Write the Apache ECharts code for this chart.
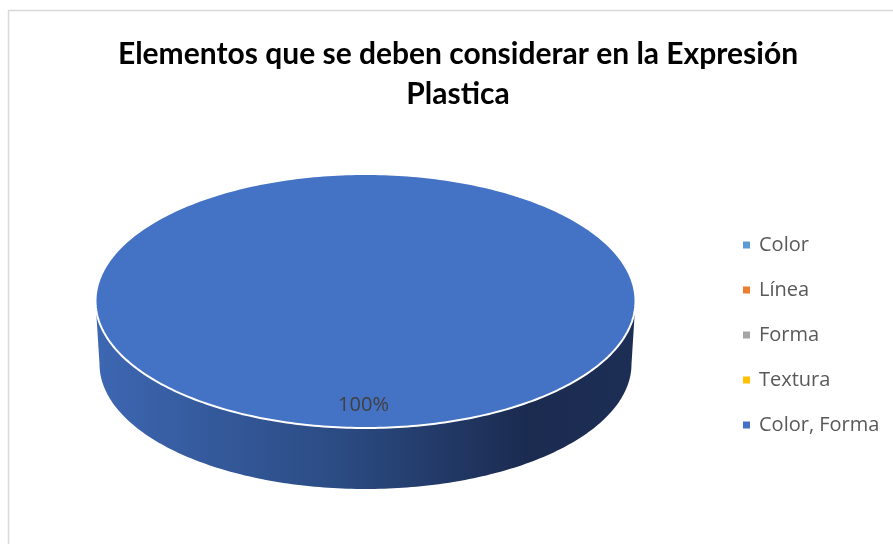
<!DOCTYPE html>
<html>
<head>
<meta charset="utf-8">
<script src="https://cdn.jsdelivr.net/npm/echarts@6/dist/echarts.min.js"></script>
<style>html,body{margin:0;padding:0;background:#fff;}#c{width:893px;height:544px;}</style>
</head>
<body>
<div id="c"></div>
<script>
var categories = ['Color', 'Línea', 'Forma', 'Textura', 'Color, Forma'];
var values = [0, 0, 0, 0, 100];
var colors = ['#5B9BD5', '#ED7D31', '#A5A5A5', '#FFC000', '#4472C4'];
var titleText = 'Elementos que se deben considerar en la Expresión\nPlastica';

var total = values.reduce(function (a, b) { return a + b; }, 0);
var starts = [];
(function () { var acc = 0; for (var i = 0; i < values.length; i++) { starts.push(acc); acc += values[i]; } })();

// geometry of the 3D pie (pixels)
var G = { cx: 365.5, cy: 301, rx: 270, ry: 127, depth: 63, shrink: 4 };

function pt(theta, cx, cy, rx, ry) {
  return [cx + rx * Math.sin(theta), cy - ry * Math.cos(theta)];
}

function makeRender(idx) {
  return function (params, api) {
    var v = values[idx];
    if (!v) return null;
    var a0 = starts[idx] / total * Math.PI * 2;
    var a1 = (starts[idx] + v) / total * Math.PI * 2;
    var children = [];
    var N = 180;
    var s0 = Math.max(a0, Math.PI / 2), s1 = Math.min(a1, Math.PI * 1.5);
    if (s1 > s0) {
      var side = [];
      var i, t;
      for (i = 0; i <= N; i++) { t = s0 + (s1 - s0) * i / N; side.push(pt(t, G.cx, G.cy, G.rx, G.ry)); }
      for (i = N; i >= 0; i--) { t = s0 + (s1 - s0) * i / N; side.push(pt(t, G.cx, G.cy + G.depth, G.rx - G.shrink, G.ry - 2)); }
      children.push({
        type: 'polygon',
        shape: { points: side },
        style: {
          fill: new echarts.graphic.LinearGradient(0, 0, 1, 0, [
            { offset: 0, color: '#3D67B2' },
            { offset: 0.45, color: '#2B4B83' },
            { offset: 0.8, color: '#1B2B50' },
            { offset: 1, color: '#1D2E55' }
          ]),
          stroke: null
        }
      });
    }
    var top = [];
    var full = (a1 - a0) >= Math.PI * 2 - 1e-9;
    if (!full) top.push([G.cx, G.cy]);
    for (var j = 0; j <= 360; j++) { var tt = a0 + (a1 - a0) * j / 360; top.push(pt(tt, G.cx, G.cy, G.rx, G.ry)); }
    children.push({
      type: 'polygon',
      shape: { points: top },
      style: { fill: colors[idx], stroke: '#ffffff', lineWidth: 2 }
    });
    var mid = (a0 + a1) / 2;
    var lp = pt(mid, G.cx, G.cy, G.rx * 0.82, G.ry * 0.82);
    children.push({
      type: 'text',
      x: lp[0] - 2, y: lp[1],
      style: {
        text: Math.round(v / total * 100) + '%',
        fill: '#404040',
        font: '20px "Open Sans", sans-serif',
        align: 'center',
        verticalAlign: 'middle'
      }
    });
    return { type: 'group', children: children };
  };
}

var series = categories.map(function (name, i) {
  return {
    type: 'custom',
    name: name,
    coordinateSystem: 'none',
    itemStyle: { color: colors[i] },
    data: [values[i]],
    renderItem: makeRender(i),
    silent: true
  };
});

var chart = echarts.init(document.getElementById('c'), null, { renderer: 'canvas' });
chart.setOption({
  animation: false,
  title: {
    text: titleText,
    left: 453,
    textAlign: 'center',
    top: 29,
    textStyle: { fontFamily: 'Lato', fontWeight: 'bold', fontSize: 30, color: '#000000', lineHeight: 40 }
  },
  legend: {
    orient: 'vertical',
    left: 738,
    top: 230,
    icon: 'rect',
    itemWidth: 7,
    itemHeight: 7,
    itemGap: 25,
    data: categories,
    textStyle: { fontFamily: 'Open Sans', fontSize: 20, color: '#595959', lineHeight: 20, padding: [0, 0, 0, 4] },
    selectedMode: false
  },
  graphic: [{
    type: 'rect',
    shape: { x: 8.5, y: 10.5, width: 900, height: 560 },
    style: { fill: null, stroke: '#D9D9D9', lineWidth: 1.5 },
    silent: true
  }],
  series: series
});
</script>
</body>
</html>
